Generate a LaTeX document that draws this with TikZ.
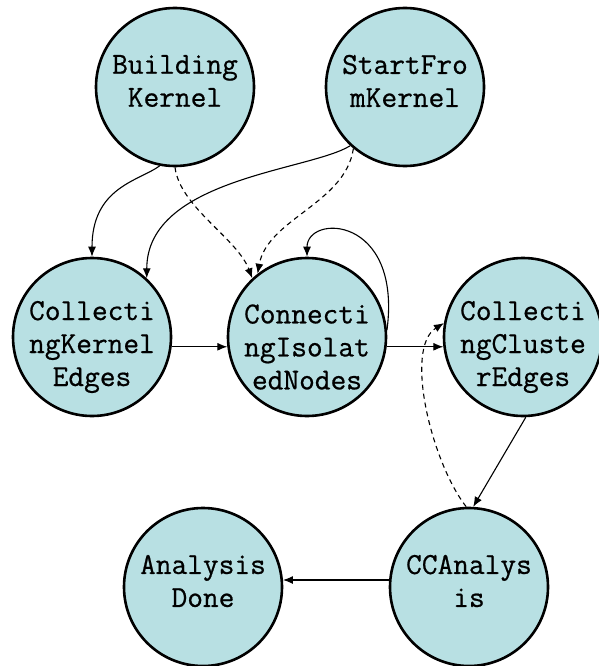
\documentclass[tikz,border=0pt]{standalone}
\usepackage{fontspec}
\newfontfamily\nodefont[FakeBold=0.7]{Latin Modern Mono}
\usetikzlibrary{arrows.meta}
\definecolor{nodefill}{HTML}{B8E0E3}
\tikzset{
  state/.style={circle, draw=black, line width=2.6pt, fill=nodefill, minimum size=158pt, inner sep=0pt},
  txt/.style={align=center, inner sep=0pt, font=\fontsize{30.5}{33}\selectfont\nodefont},
  conn/.style={line width=1.1pt, -{Latex[length=10pt,width=8pt]}},
  dconn/.style={conn, dash pattern=on 5pt off 4pt}
}
\begin{document}
\begin{tikzpicture}[x=1pt,y=-1pt]
\useasboundingbox (0,0) rectangle (598,666);
\node[state, label={[txt, name=bkt, yshift=6pt]center:Building\\Kernel}] (bk) at (175,87) {};
\node[state, label={[txt, name=sfkt, yshift=6pt]center:StartFro\\mKernel}] (sfk) at (405,87) {};
\node[state, label={[txt, name=ckett, yshift=-10pt]center:Collecti\\ngKernel\\Edges}] (cke) at (92,337) {};
\node[state, label={[txt, name=cint, yshift=-10pt]center:Connecti\\ngIsolat\\edNodes}] (cin) at (307,337) {};
\node[state, label={[txt, name=ccet, yshift=-10pt]center:Collecti\\ngCluste\\rEdges}] (cce) at (523,337) {};
\node[state, label={[txt, name=ccat, yshift=6pt]center:CCAnalys\\is}] (cca) at (469,587) {};
\node[state, label={[txt, name=adt, yshift=6pt]center:Analysis\\Done}] (ad) at (203,587) {};

\draw[conn] (bk.-101) .. controls +(-20,15) and +(0,-70) .. (cke.90);
\draw[dconn] (bk.-90) .. controls +(5,40) and +(-15,-40) .. (cin.133);
\draw[conn] (sfk.-133) .. controls +(-40,25) and +(0,-100) .. (cke.47);
\draw[dconn] (sfk.-130) .. controls +(-8,55) and +(10,-55) .. (cin.128);
\draw[conn] (cke.-7) -- (cin.187);
\draw[conn] (cin.5) .. controls +(15,-115) and +(0,-43) .. (cin.90);
\draw[conn] (cin.-7) -- (cce.187);
\draw[conn] (cce.-88) -- (cca.87);
\draw[dconn] (cca.92) .. controls +(-35,-45) and +(-40,25) .. (cce.170);
\draw[conn] (cca.175) -- (ad.5);
\end{tikzpicture}
\end{document}
